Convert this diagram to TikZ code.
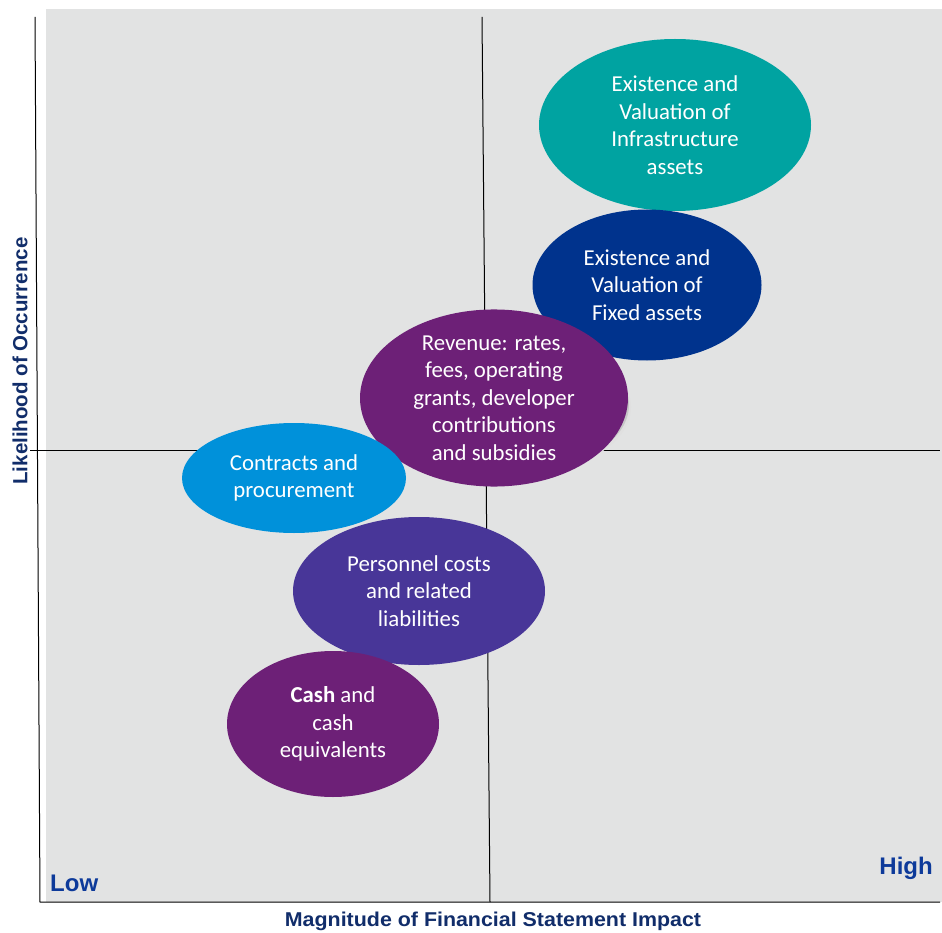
\documentclass[tikz,border=0pt]{standalone}
\usepackage{fontspec}
\setmainfont{Carlito}
\newfontfamily\axisfont{Liberation Sans}
\usetikzlibrary{shapes.geometric}
\definecolor{bggray}{HTML}{E2E3E3}
\definecolor{kteal}{HTML}{00A3A1}
\definecolor{kdark}{HTML}{00338D}
\definecolor{kpurple}{HTML}{6D2077}
\definecolor{klight}{HTML}{0091DA}
\definecolor{kviolet}{HTML}{483698}
\definecolor{navytitle}{HTML}{112D6A}
\definecolor{navylabel}{HTML}{0D3A9A}
\tikzset{
  blob/.style={ellipse, inner sep=0pt, text=white, align=center,
    font=\fontsize{22.8}{27.6}\selectfont},
  axisline/.style={line width=1pt, black},
  axistitle/.style={text=navytitle, font=\axisfont\bfseries\fontsize{20}{24}\selectfont, inner sep=0pt},
  corner/.style={text=navylabel, font=\axisfont\bfseries\fontsize{24}{28}\selectfont, inner sep=0pt},
}
\begin{document}
\begin{tikzpicture}[x=1pt,y=-1pt]
\useasboundingbox (0,0) rectangle (942,933);
\fill[bggray] (46,9) rectangle (942,902);
% axes
\coordinate (ytop) at (35,17);
\coordinate (origin) at (40,902);
\coordinate (xend) at (940,902);
\coordinate (mtop) at (482,17);
\coordinate (mbot) at (490,902);
\coordinate (hleft) at (30,450);
\coordinate (hright) at (940,450);
\draw[axisline] (ytop) -- (origin) -- (xend);
\draw[axisline] (mtop) -- (mbot);
\draw[axisline] (hleft) -- (hright);
% shadow
\fill[black!12] (497,407) ellipse [x radius=134pt, y radius=72pt];
\fill[black!22] (496,405) ellipse [x radius=133pt, y radius=72pt];
% ellipses
\node[blob, fill=kteal, minimum width=272pt, minimum height=172pt] (infra) at (675,125)
  {Existence and\\Valuation of\\Infrastructure\\assets};
\node[blob, fill=kdark, minimum width=229pt, minimum height=151pt] (fixed) at (647,285)
  {Existence and\\Valuation of\\Fixed assets};
\node[blob, fill=kpurple, minimum width=268pt, minimum height=144pt] (revenue) at (494,398)
  {Revenue: rates,\\fees, operating\\grants, developer\\contributions\\and subsidies};
\node[blob, fill=klight, minimum width=224pt, minimum height=110pt] (contracts) at (294,478)
  {Contracts and\\procurement};
\node[blob, fill=kviolet, minimum width=252pt, minimum height=148pt] (personnel) at (419,591)
  {Personnel costs\\and related\\liabilities};
\node[blob, fill=kpurple, minimum width=212pt, minimum height=146pt] (cash) at (333,724)
  {\textbf{Cash} and\\cash\\equivalents};
% labels
\node[corner, anchor=west] (low) at (50,883) {Low};
\node[corner, anchor=east] (high) at (933,868) {High};
\node[axistitle] (xtitle) at (493,921) {\scalebox{1.07}[1]{Magnitude of Financial Statement Impact}};
\node[axistitle, rotate=90, font=\axisfont\bfseries\fontsize{20.5}{24}\selectfont] (ytitle) at (20,361) {Likelihood of Occurrence};
\end{tikzpicture}
\end{document}
